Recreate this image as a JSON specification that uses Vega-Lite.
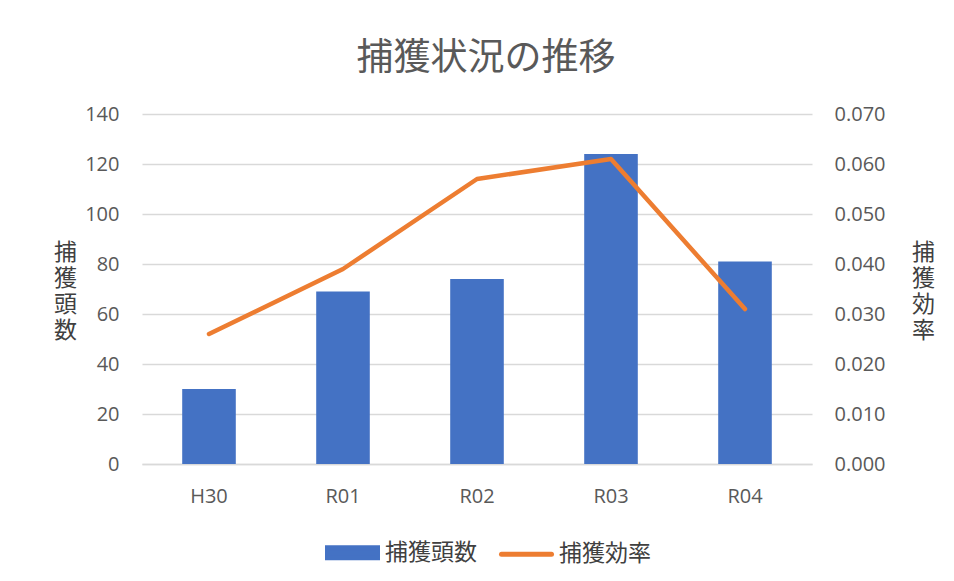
{
  "$schema": "https://vega.github.io/schema/vega-lite/v6.json",
  "autosize": "none",
  "width": 670,
  "height": 350,
  "padding": {"left": 142, "top": 114, "right": 142, "bottom": 117},
  "background": "white",
  "title": {
    "text": "捕獲状況の推移",
    "fontSize": 37,
    "font": "Noto Sans CJK JP",
    "fontWeight": "normal",
    "color": "#595959",
    "anchor": "middle",
    "offset": 26,
    "dx": 9
  },
  "data": {
    "values": [
      {"年度": "H30", "捕獲頭数": 30, "捕獲効率": 0.026},
      {"年度": "R01", "捕獲頭数": 69, "捕獲効率": 0.039},
      {"年度": "R02", "捕獲頭数": 74, "捕獲効率": 0.057},
      {"年度": "R03", "捕獲頭数": 124, "捕獲効率": 0.061},
      {"年度": "R04", "捕獲頭数": 81, "捕獲効率": 0.031}
    ]
  },
  "encoding": {
    "x": {
      "field": "年度",
      "type": "nominal",
      "sort": null,
      "scale": {"paddingInner": 0.6, "paddingOuter": 0.3},
      "axis": {
        "title": null,
        "labelAngle": 0,
        "labelFontSize": 20,
        "labelFont": "Open Sans",
        "labelColor": "#595959",
        "labelPadding": 22,
        "ticks": false,
        "domainColor": "#D9D9D9",
        "domainWidth": 1.5,
        "grid": false
      }
    }
  },
  "layer": [
    {
      "mark": {"type": "bar", "color": "#4472C4"},
      "encoding": {
        "y": {
          "field": "捕獲頭数",
          "type": "quantitative",
          "scale": {"domain": [0, 140], "nice": false},
          "axis": {
            "values": [0, 20, 40, 60, 80, 100, 120, 140],
            "orient": "left",
            "title": ["捕", "獲", "頭", "数"],
            "titleAngle": 0,
            "titleFont": "Noto Sans CJK JP",
            "titleFontSize": 23,
            "titleFontWeight": "normal",
            "titleColor": "#404040",
            "titleLineHeight": 26,
            "titleAlign": "center",
            "titleBaseline": "top",
            "titleX": -77,
            "titleY": 127,
            "labelFontSize": 20,
            "labelFont": "Open Sans",
            "labelColor": "#595959",
            "labelPadding": 23,
            "ticks": false,
            "domain": false,
            "grid": true,
            "gridColor": "#D9D9D9",
            "gridWidth": 1.5
          }
        },
        "color": {
          "datum": "捕獲頭数",
          "type": "nominal",
          "scale": {"domain": ["捕獲頭数", "捕獲効率"], "range": ["#4472C4", "#ED7D31"]},
          "legend": {
            "title": null,
            "orient": "none",
            "direction": "horizontal",
            "legendX": 183,
            "legendY": 411,
            "padding": 0,
            "symbolOffset": 0,
            "columnPadding": 14,
            "labelOffset": 5,
            "labelFont": "Noto Sans CJK JP",
            "labelFontSize": 23,
            "labelColor": "#404040",
            "symbolSize": 2500,
            "encode": {
              "symbols": {
                "update": {
                  "shape": {"signal": "datum.value === '捕獲頭数' ? 'M-1,-0.2H1V0.2H-1Z' : 'M-1,0H1'"},
                  "fill": {"signal": "datum.value === '捕獲頭数' ? '#4472C4' : 'transparent'"},
                  "stroke": {"signal": "datum.value === '捕獲頭数' ? 'transparent' : '#ED7D31'"},
                  "strokeWidth": {"value": 5},
                  "strokeCap": {"value": "round"},
                  "size": {"value": 2500},
                  "opacity": {"value": 1}
                }
              }
            }
          }
        }
      }
    },
    {
      "mark": {"type": "line", "strokeWidth": 4.5, "strokeCap": "round", "strokeJoin": "round"},
      "encoding": {
        "y": {
          "field": "捕獲効率",
          "type": "quantitative",
          "scale": {"domain": [0, 0.07], "nice": false},
          "axis": {
            "values": [0, 0.01, 0.02, 0.03, 0.04, 0.05, 0.06, 0.07],
            "format": ".3f",
            "orient": "right",
            "title": ["捕", "獲", "効", "率"],
            "titleAngle": 0,
            "titleFont": "Noto Sans CJK JP",
            "titleFontSize": 23,
            "titleFontWeight": "normal",
            "titleColor": "#404040",
            "titleLineHeight": 26,
            "titleAlign": "center",
            "titleBaseline": "top",
            "titleX": 111,
            "titleY": 127,
            "labelFontSize": 20,
            "labelFont": "Open Sans",
            "labelColor": "#595959",
            "labelPadding": 22,
            "ticks": false,
            "domain": false,
            "grid": false
          }
        },
        "color": {"datum": "捕獲効率", "type": "nominal"}
      }
    }
  ],
  "resolve": {"scale": {"y": "independent"}},
  "config": {
    "view": {"stroke": null},
    "font": "Open Sans"
  }
}
